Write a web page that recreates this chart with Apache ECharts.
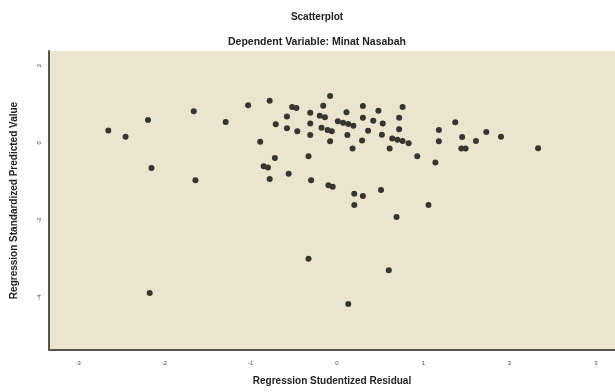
<!DOCTYPE html>
<html>
<head>
<meta charset="utf-8">
<script src="https://cdn.jsdelivr.net/npm/echarts@6/dist/echarts.min.js"></script>
<style>
html,body{margin:0;padding:0;background:#fff;}
#chart{width:615px;height:392px;}
</style>
</head>
<body>
<div id="chart"></div>
<script>
// Regression Studentized Residual (x)
const residuals = [
  -2.65, -2.45, -2.19, -2.15, -2.17, -1.66, -1.64, -1.29, -1.03, -0.89,
  -0.85, -0.80, -0.78, -0.72, -0.78, -0.71, -0.58, -0.58, -0.56, -0.52,
  -0.47, -0.46, -0.33, -0.31, -0.31, -0.31, -0.30, -0.33, -0.20, -0.14,
  -0.16, -0.08, -0.18, -0.11, -0.06, -0.08, -0.10, -0.05, 0.01, 0.07,
  0.13, 0.19, 0.11, 0.12, 0.18, 0.13, 0.20, 0.30, 0.20, 0.30,
  0.30, 0.29, 0.36, 0.42, 0.48, 0.51, 0.53, 0.52, 0.60, 0.61,
  0.64, 0.70, 0.76, 0.83, 0.69, 0.72, 0.72, 0.76, 0.93, 1.06,
  1.14, 1.18, 1.18, 1.37, 1.45, 1.44, 1.49, 1.61, 1.73, 1.90,
  2.33
];
// Regression Standardized Predicted Value (y)
const predicted = [
  0.32, 0.16, 0.59, -0.65, -3.89, 0.82, -0.97, 0.54, 0.97, 0.03,
  -0.61, -0.64, -0.94, -0.39, 1.09, 0.48, 0.68, 0.38, -0.80, 0.93,
  0.90, 0.30, -0.35, 0.78, 0.50, 0.20, -0.97, -3.00, 0.70, 0.66,
  0.96, 1.21, 0.39, 0.33, 0.30, 0.04, -1.10, -1.14, 0.56, 0.52,
  0.49, 0.44, 0.79, 0.20, -0.15, -4.17, -1.32, -1.38, -1.61, 0.95,
  0.65, 0.06, 0.31, 0.57, 0.83, -1.22, 0.50, 0.21, -3.30, -0.15,
  0.11, 0.08, 0.05, -0.01, -1.92, 0.65, 0.35, 0.93, -0.35, -1.61,
  -0.51, 0.33, 0.04, 0.53, 0.15, -0.15, -0.15, 0.05, 0.28, 0.16,
  -0.14
];
const xTicks = [-3, -2, -1, 0, 1, 2, 3];
const yTicks = [2, 0, -2, -4];
const titleText = 'Scatterplot';
const subtitleText = 'Dependent Variable: Minat Nasabah';
const xName = 'Regression Studentized Residual';
const yName = 'Regression Standardized Predicted Value';

const points = residuals.map((x, i) => [x, predicted[i]]);
const font = 'Liberation Sans, Arial, sans-serif';

const chart = echarts.init(document.getElementById('chart'), null, {renderer: 'canvas'});
chart.setOption({
  animation: false,
  backgroundColor: '#ffffff',
  graphic: [
    {type: 'text', x: 317, y: 17, style: {text: titleText, align: 'center', verticalAlign: 'middle', font: 'bold 10px ' + font, fill: '#222'}},
    {type: 'text', x: 317, y: 42, style: {text: subtitleText, align: 'center', verticalAlign: 'middle', font: 'bold 10.5px ' + font, fill: '#222'}}
  ],
  grid: {
    left: 49, top: 51, right: 0, bottom: 42,
    show: true, backgroundColor: '#ebe4cf', borderWidth: 0
  },
  xAxis: {
    type: 'value',
    min: -3.337, max: 3.221,
    name: xName, nameLocation: 'middle', nameGap: 26,
    nameTextStyle: {fontFamily: font, fontSize: 10, fontWeight: 'bold', color: '#222'},
    axisLine: {show: true, onZero: false, lineStyle: {color: '#55554a', width: 2}},
    axisTick: {show: false},
    splitLine: {show: false},
    axisLabel: {customValues: xTicks, fontSize: 6, color: '#444', margin: 10, fontFamily: font}
  },
  yAxis: {
    type: 'value',
    min: -5.364, max: 2.377,
    name: yName, nameLocation: 'middle', nameGap: 30,
    nameTextStyle: {fontFamily: font, fontSize: 10, fontWeight: 'bold', color: '#222'},
    axisLine: {show: true, onZero: false, lineStyle: {color: '#55554a', width: 2}},
    axisTick: {show: false},
    splitLine: {show: false},
    axisLabel: {customValues: yTicks, fontSize: 6, color: '#444', margin: 7, rotate: 90, fontFamily: font}
  },
  series: [{
    type: 'scatter',
    data: points,
    symbol: 'circle',
    symbolSize: 6,
    itemStyle: {color: '#36352f', opacity: 1},
    silent: true
  }]
});
</script>
</body>
</html>
